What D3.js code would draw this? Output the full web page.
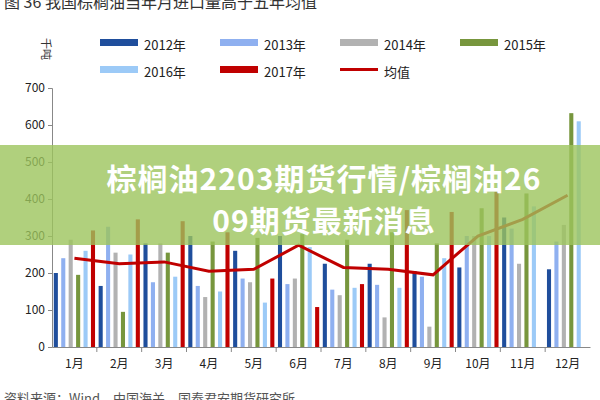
<!DOCTYPE html>
<html><head><meta charset="utf-8">
<script src="https://cdn.jsdelivr.net/npm/d3@7"></script>
<style>body{margin:0;background:#fff}text{font-family:"Noto Sans CJK SC","Noto Sans",sans-serif}</style>
</head><body><div id="chart"></div>
<script>
const months = ["1月","2月","3月","4月","5月","6月","7月","8月","9月","10月","11月","12月"]
const years = ["2012年","2013年","2014年","2015年","2016年","2017年"]
const colors = ["#1f4e9c","#8fb0f0","#b2b2b2","#77963d","#9ccaf7","#c00000"]
const v2012 = [200,165,280,300,260,300,225,225,205,215,350,210]
const v2013 = [240,325,175,165,185,170,155,168,190,300,320,285]
const v2014 = [290,255,280,135,175,185,140,80,55,300,225,330]
const v2015 = [195,95,255,285,295,305,290,310,280,375,415,632]
const v2016 = [260,250,190,150,120,270,160,160,240,300,380,610]
const v2017 = [315,345,340,310,185,108,170,370,365,420,null,null]
const avg = [240,225,230,205,210,275,215,210,195,300,345,410]
const yTicks = [0,100,200,300,400,500,600,700]

const series = [v2012,v2013,v2014,v2015,v2016,v2017]
const svg = d3.select("#chart").append("svg").attr("width",600).attr("height",400)

const x = d3.scaleBand().domain(months).range([52,590]).paddingInner(0.08).paddingOuter(0.04)
const xs = d3.scaleBand().domain(d3.range(6)).range([0,x.bandwidth()]).paddingInner(0.45)
const y = d3.scaleLinear().domain([0,700]).range([347,88])

// title (partly hidden at top)
svg.append("text").attr("x",4).attr("y",8).attr("font-size",16).attr("fill","#333")
    .text("图 36 我国棕榈油当年月进口量高于五年均值")

svg.append("text").attr("transform","translate(42,38) rotate(90)").attr("font-size",11).attr("fill","#333").text("千吨")

// axes
svg.append("g").attr("transform","translate(52,0)")
    .call(d3.axisLeft(y).tickValues(yTicks).tickSize(4))
    .call(g => g.selectAll("text").attr("font-size",12).attr("fill","#222"))
    .call(g => g.selectAll("line,path").attr("stroke","#888"))
svg.append("g").attr("transform","translate(0,347)")
    .call(d3.axisBottom(x).tickSize(0).tickPadding(12))
    .call(g => g.selectAll("text").attr("font-size",12).attr("fill","#222"))
    .call(g => g.select("path").attr("stroke","#888"))
svg.append("g").selectAll("line").data(months.slice(1)).enter().append("line")
    .attr("x1",d => x(d) - x.step()*x.paddingInner()/2).attr("x2",d => x(d) - x.step()*x.paddingInner()/2)
    .attr("y1",347).attr("y2",352).attr("stroke","#888")

// bars
series.forEach((s,i) => {
    svg.append("g").selectAll("rect").data(s.map((v,j) => [j,v]).filter(d => d[1] != null))
        .enter().append("rect")
            .attr("x",d => x(months[d[0]]) + xs(i))
            .attr("width",xs.bandwidth())
            .attr("y",d => y(d[1]))
            .attr("height",d => y(0) - y(d[1]))
            .attr("fill",colors[i])
})

// average line
svg.append("path").datum(avg)
    .attr("d",d3.line().x((d,i) => x(months[i]) + x.bandwidth()/2).y(d => y(d)))
    .attr("fill","none").attr("stroke","#c00000").attr("stroke-width",3)

// legend
const legend = years.map((t,i) => ({t:t,c:colors[i],line:false})).concat([{t:"均值",c:"#c00000",line:true}])
const lg = svg.append("g").selectAll("g").data(legend).enter().append("g")
    .attr("transform",(d,i) => `translate(${100 + (i%4)*120},${i<4 ? 45 : 72})`)
lg.append("rect").attr("x",0).attr("y",d => d.line ? -4 : -6).attr("width",38).attr("height",d => d.line ? 3 : 7).attr("fill",d => d.c)
lg.append("text").attr("x",44).attr("y",5).attr("font-size",13).attr("fill","#222").text(d => d.t)

// source (cut off at bottom)
svg.append("text").attr("x",4).attr("y",403).attr("font-size",13).attr("fill","#555").text("资料来源：Wind，中国海关，国泰君安期货研究所")

// overlay banner
svg.append("rect").attr("x",0).attr("y",145).attr("width",600).attr("height",100).attr("fill","#9cc45c").attr("opacity",0.8)
svg.append("text").attr("x",324).attr("y",190).attr("text-anchor","middle").attr("font-size",30).attr("letter-spacing",1).attr("font-weight","bold").attr("fill","#fff").text("棕榈油2203期货行情/棕榈油26")
svg.append("text").attr("x",324).attr("y",232).attr("text-anchor","middle").attr("font-size",30).attr("letter-spacing",1).attr("font-weight","bold").attr("fill","#fff").text("09期货最新消息")
</script></body></html>
